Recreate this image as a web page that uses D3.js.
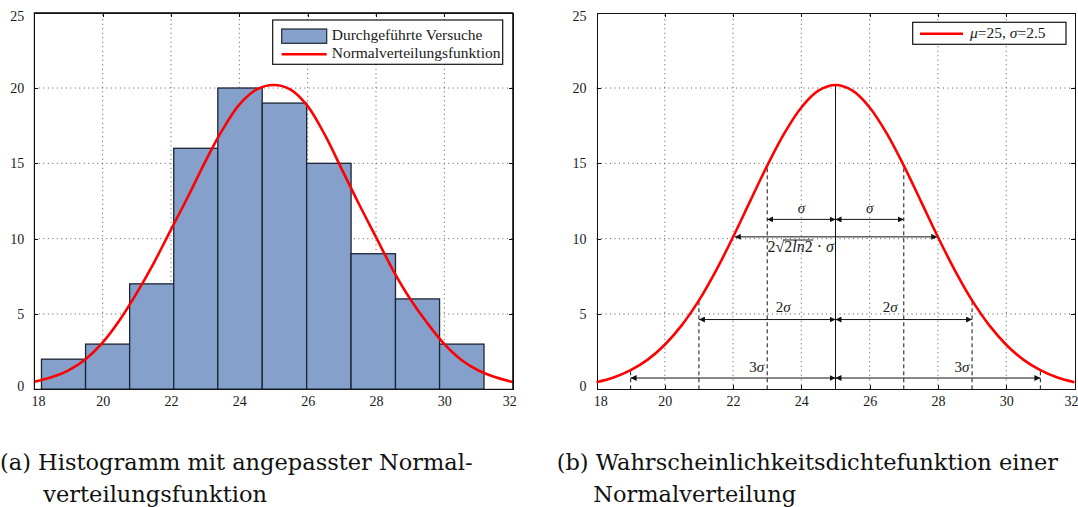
<!DOCTYPE html>
<html>
<head>
<meta charset="utf-8">
<script src="https://cdn.jsdelivr.net/npm/d3@7"></script>
<style>
body { margin: 0; background: #fff; }
.grid line { stroke: #555; stroke-width: 1; stroke-dasharray: 1,3.5; }
.axis path, .axis line { stroke: #111; shape-rendering: crispEdges; }
</style>
</head>
<body>
<svg id="chart" width="1078" height="507"></svg>
<script>
/* jshint esversion: 6 */

// (a) histogram of the trials
var binEdges = [18.21, 19.5, 20.79, 22.08, 23.37, 24.67, 25.97, 27.27, 28.57, 29.86, 31.16];
var binCounts = [2, 3, 7, 16, 20, 19, 15, 9, 6, 3];

// red curves
var curveX = [18, 18.5, 19, 19.5, 20, 20.5, 21, 21.5, 22, 22.5, 23, 23.5, 24, 24.5, 25,
              25.5, 26, 26.5, 27, 27.5, 28, 28.5, 29, 29.5, 30, 30.5, 31, 31.5, 32];
var fitY = [0.5, 0.8, 1.26, 2.0, 3.1, 4.6, 6.4, 8.4, 10.6, 12.8, 15.1, 17.2, 18.9, 19.9, 20.2,
            19.9, 18.8, 16.9, 14.6, 12.3, 10.1, 7.9, 6.0, 4.4, 3.0, 1.95, 1.25, 0.8, 0.48];
var pdfY = [0.47, 0.78, 1.27, 1.97, 2.96, 4.26, 5.9, 7.88, 10.11, 12.49, 14.85, 16.99, 18.71, 19.82, 20.2,
            19.82, 18.71, 16.99, 14.85, 12.49, 10.11, 7.88, 5.9, 4.26, 2.96, 1.97, 1.27, 0.78, 0.47];

var xTicks = [18, 20, 22, 24, 26, 28, 30, 32];
var yTicks = [0, 5, 10, 15, 20, 25];

var legendA = ["Durchgeführte Versuche", "Normalverteilungsfunktion"];

// (b) annotations
var mu = 25;
var sigmaLines = [19, 21, 23, 27, 29, 31];
var arrows = [
  {x0: 23, x1: 25, y: 11.28}, {x0: 25, x1: 27, y: 11.28},
  {x0: 22.05, x1: 27.98, y: 10.12},
  {x0: 21, x1: 25, y: 4.63}, {x0: 25, x1: 29, y: 4.63},
  {x0: 19, x1: 25, y: 0.75}, {x0: 25, x1: 31, y: 0.75}
];
var arrowLabels = [
  {x: 24, y: 11.7, t: "σ"}, {x: 26, y: 11.7, t: "σ"},
  {x: 23.47, y: 5.15, t: "2σ"}, {x: 26.6, y: 5.15, t: "2σ"},
  {x: 22.69, y: 1.13, t: "3σ"}, {x: 28.7, y: 1.13, t: "3σ"}
];

var captions = [
  {x: 0, y: 470, t: "(a) Histogramm mit angepasster Normal-"},
  {x: 43.3, y: 501.7, t: "verteilungsfunktion"},
  {x: 556.7, y: 470, t: "(b) Wahrscheinlichkeitsdichtefunktion einer"},
  {x: 593.3, y: 501.7, t: "Normalverteilung"}
];

var serif = "'Liberation Serif', 'Times New Roman', serif";
var svg = d3.select("#chart");
var red = "#ff0000", barFill = "#84a0cb", barStroke = "#1c2533";

var y = d3.scaleLinear().domain([0, 25]).range([389.3, 12.7]);
var xA = d3.scaleLinear().domain([18, 32]).range([34.3, 512.7]);
var xB = d3.scaleLinear().domain([18, 32]).range([596.5, 1074.5]);

svg.append("defs").append("marker")
  .attr("id", "arr")
  .attr("viewBox", "0 0 8 8")
  .attr("refX", 8).attr("refY", 4)
  .attr("markerWidth", 6).attr("markerHeight", 6)
  .attr("markerUnits", "userSpaceOnUse")
  .attr("orient", "auto-start-reverse")
  .append("path").attr("d", "M0,0L8,4L0,8Z").attr("fill", "#111");

function frame(x) {
  var r = x.range();
  var g = svg.append("g");

  var grid = g.append("g").attr("class", "grid");
  grid.selectAll(".gx").data(xTicks.slice(1, -1)).enter().append("line")
    .attr("x1", d => x(d)).attr("x2", d => x(d))
    .attr("y1", y(0)).attr("y2", y(25));
  grid.selectAll(".gy").data(yTicks.slice(1, -1)).enter().append("line")
    .attr("x1", r[0]).attr("x2", r[1])
    .attr("y1", d => y(d)).attr("y2", d => y(d));

  var bottom = g.append("g").attr("class", "axis").attr("transform", "translate(0," + y(0) + ")")
    .call(d3.axisBottom(x).tickValues(xTicks).tickSizeInner(-4).tickSizeOuter(0).tickPadding(7));
  bottom.selectAll("text")
    .attr("dx", d => d === 18 ? 3.7 : (d === 32 ? -3.4 : 0));
  g.append("g").attr("class", "axis").attr("transform", "translate(0," + y(25) + ")")
    .call(d3.axisTop(x).tickValues(xTicks).tickSizeInner(-4).tickSizeOuter(0).tickFormat(""));
  var left = g.append("g").attr("class", "axis").attr("transform", "translate(" + r[0] + ",0)")
    .call(d3.axisLeft(y).tickValues(yTicks).tickSizeInner(-4).tickSizeOuter(0).tickPadding(10));
  left.selectAll("text")
    .attr("dy", d => d === 25 ? "0.55em" : (d === 0 ? "0.05em" : "0.32em"));
  g.append("g").attr("class", "axis").attr("transform", "translate(" + r[1] + ",0)")
    .call(d3.axisRight(y).tickValues(yTicks).tickSizeInner(-4).tickSizeOuter(0).tickFormat(""));
  g.selectAll(".axis text")
    .style("font-family", serif).style("font-size", "14px").style("fill", "#1a1a1a");
  return g;
}

// ---------- panel (a)
frame(xA);

svg.append("g").selectAll("rect")
  .data(binCounts).enter().append("rect")
  .attr("x", (d, i) => xA(binEdges[i]))
  .attr("width", (d, i) => xA(binEdges[i + 1]) - xA(binEdges[i]))
  .attr("y", d => y(d))
  .attr("height", d => y(0) - y(d))
  .attr("fill", barFill).attr("stroke", barStroke).attr("stroke-width", 1.3);

var lineA = d3.line().x((d, i) => xA(curveX[i])).y(d => y(d)).curve(d3.curveCatmullRom);
svg.append("path").datum(fitY).attr("d", lineA)
  .attr("fill", "none").attr("stroke", red).attr("stroke-width", 2.6);

// redraw the box on top of bars
svg.append("rect").attr("x", xA(18)).attr("y", y(25))
  .attr("width", xA(32) - xA(18)).attr("height", y(0) - y(25))
  .attr("fill", "none").attr("stroke", "#111");

var lgA = svg.append("g").attr("transform", "translate(272.7,20)");
lgA.append("rect").attr("width", 230).attr("height", 44.3)
  .attr("fill", "#fff").attr("stroke", "#111").attr("stroke-width", 1.2);
lgA.append("rect").attr("x", 9).attr("y", 9).attr("width", 45).attr("height", 14.3)
  .attr("fill", barFill).attr("stroke", barStroke).attr("stroke-width", 1.2);
lgA.append("line").attr("x1", 9).attr("x2", 54).attr("y1", 34.3).attr("y2", 34.3)
  .attr("stroke", red).attr("stroke-width", 2.6);
lgA.selectAll("text").data(legendA).enter().append("text")
  .attr("x", 59).attr("y", (d, i) => i ? 38.3 : 19.8)
  .style("font-family", serif).style("font-size", "15.5px").style("fill", "#1a1a1a")
  .text(d => d);

// ---------- panel (b)
frame(xB);

var ann = svg.append("g");
ann.selectAll(".dash").data(sigmaLines).enter().append("line")
  .attr("x1", d => xB(d)).attr("x2", d => xB(d))
  .attr("y1", y(0)).attr("y2", d => y(pdfY[curveX.indexOf(d)]))
  .attr("stroke", "#111").attr("stroke-dasharray", "4,3");
ann.append("line")
  .attr("x1", xB(mu)).attr("x2", xB(mu))
  .attr("y1", y(0)).attr("y2", y(pdfY[curveX.indexOf(mu)]))
  .attr("stroke", "#111");
ann.selectAll(".arrow").data(arrows).enter().append("line")
  .attr("x1", d => xB(d.x0)).attr("x2", d => xB(d.x1))
  .attr("y1", d => y(d.y)).attr("y2", d => y(d.y))
  .attr("stroke", "#111").attr("stroke-width", 1)
  .attr("marker-start", "url(#arr)").attr("marker-end", "url(#arr)");
ann.selectAll(".lbl").data(arrowLabels).enter().append("text")
  .attr("x", d => xB(d.x)).attr("y", d => y(d.y))
  .attr("text-anchor", "middle")
  .style("font-family", serif).style("font-size", "15px").style("fill", "#1a1a1a")
  .each(function(d) {
    var t = d3.select(this);
    if (d.t.length > 1) t.append("tspan").text(d.t[0]);
    t.append("tspan").attr("font-style", "italic").text("σ");
  });

// 2*sqrt(2 ln2)*sigma label
var fw = ann.append("text").attr("x", xB(23.98)).attr("y", 251.7)
  .attr("text-anchor", "middle")
  .style("font-family", serif).style("font-size", "16px").style("fill", "#1a1a1a");
fw.append("tspan").text("2√");
fw.append("tspan").text("2");
fw.append("tspan").attr("font-style", "italic").text("ln");
fw.append("tspan").text("2");
fw.append("tspan").text(" · ");
fw.append("tspan").attr("font-style", "italic").text("σ");
var fwNode = fw.node();
var startRad = fwNode.getStartPositionOfChar(2).x;
var endRad = fwNode.getEndPositionOfChar(5).x;
ann.append("line").attr("x1", startRad - 1).attr("x2", endRad + 0.5)
  .attr("y1", 240).attr("y2", 240).attr("stroke", "#111").attr("stroke-width", 0.9);

var lineB = d3.line().x((d, i) => xB(curveX[i])).y(d => y(d)).curve(d3.curveCatmullRom);
svg.append("path").datum(pdfY).attr("d", lineB)
  .attr("fill", "none").attr("stroke", red).attr("stroke-width", 2.6);

var lgB = svg.append("g").attr("transform", "translate(912.7,22.3)");
lgB.append("rect").attr("width", 153.3).attr("height", 22)
  .attr("fill", "#fff").attr("stroke", "#111").attr("stroke-width", 1.2);
lgB.append("line").attr("x1", 7.3).attr("x2", 50.3).attr("y1", 11.5).attr("y2", 11.5)
  .attr("stroke", red).attr("stroke-width", 2.6);
var lgBt = lgB.append("text").attr("x", 57.3).attr("y", 16.2)
  .style("font-family", serif).style("font-size", "15.5px").style("fill", "#1a1a1a");
lgBt.append("tspan").attr("font-style", "italic").text("μ");
lgBt.append("tspan").text("=25, ");
lgBt.append("tspan").attr("font-style", "italic").text("σ");
lgBt.append("tspan").text("=2.5");

// ---------- captions
svg.selectAll(".caption").data(captions).enter().append("text")
  .attr("class", "caption")
  .attr("x", d => d.x).attr("y", d => d.y)
  .style("font-family", "'DejaVu Serif', serif").style("font-size", "22.5px").style("fill", "#111")
  .text(d => d.t);
</script>
</body>
</html>
